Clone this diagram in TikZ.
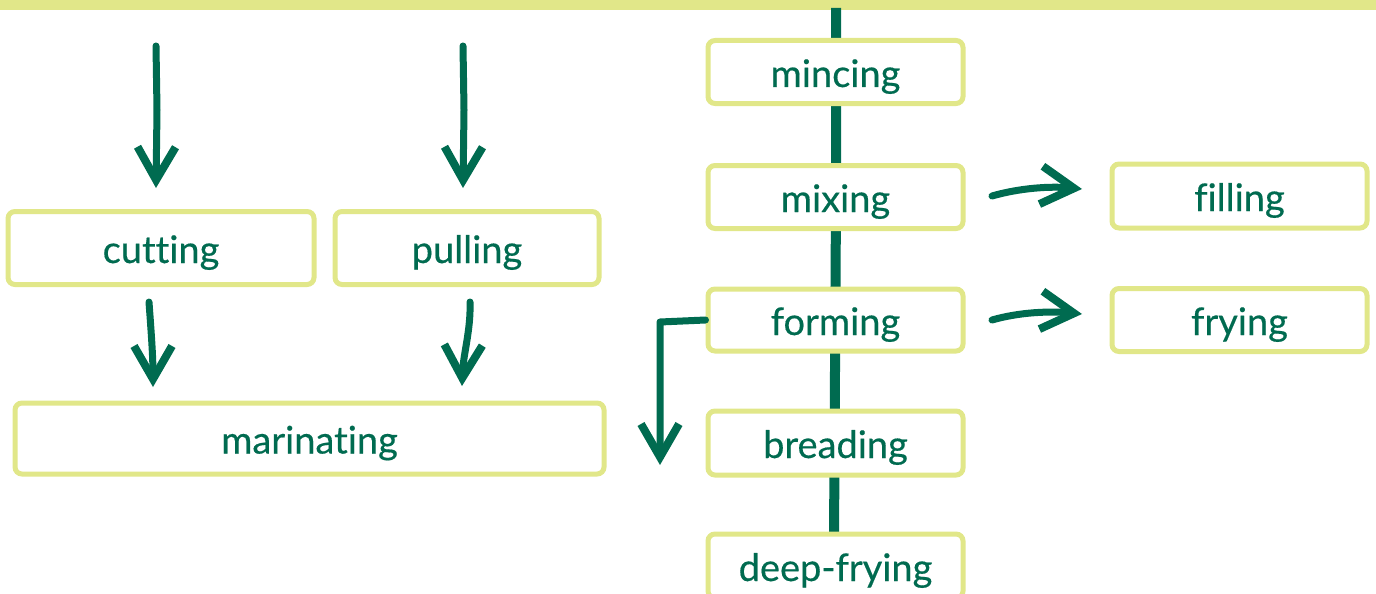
\documentclass[tikz,border=0pt]{standalone}
\usepackage{fontspec}
\setmainfont{Lato}[Ligatures={NoCommon}]
\newfontfamily\labfont{Lato}[Ligatures={NoCommon}, RawFeature={embolden=0.4}]
\usetikzlibrary{arrows.meta}
\definecolor{dgreen}{HTML}{006B50}
\definecolor{ylw}{HTML}{E1E789}
\tikzset{
  stepbox/.style={draw=ylw, line width=5pt, rounded corners=7pt, fill=white, text=dgreen,
    font=\labfont\fontsize{38}{40}\selectfont, anchor=center, inner sep=0pt, text height=30pt, text depth=0pt},
  flow/.style={draw=dgreen, line width=7pt, line cap=round, line join=round,
    -{Straight Barb[length=33pt,width=38pt,line width=8pt]}},
}
\begin{document}
\begin{tikzpicture}[x=1pt,y=-1pt]
\useasboundingbox (0,0) rectangle (1376,594);
% top bar
\fill[ylw] (0,-2) rectangle (1376,10);
% vertical spine
\coordinate (top) at (836,8);
\coordinate (bot) at (834,540);
\draw[dgreen, line width=10pt] (top) -- (836,200) -- (bot);
% boxes
\node[stepbox, minimum width=255pt, minimum height=63pt] (mincing) at (835.5,72) {mincing};
\node[stepbox, minimum width=255pt, minimum height=63pt] (mixing) at (835.5,197) {mixing};
\node[stepbox, minimum width=255pt, minimum height=62pt] (forming) at (835.5,320) {forming};
\node[stepbox, minimum width=255pt, minimum height=64pt] (breading) at (835.5,443) {breading};
\node[stepbox, minimum width=255pt, minimum height=64pt] (deep) at (835.5,566) {deep-frying};
\node[stepbox, minimum width=255pt, minimum height=64pt] (filling) at (1239.5,196) {filling};
\node[stepbox, minimum width=255pt, minimum height=63pt] (frying) at (1239.5,320) {frying};
\node[stepbox, minimum width=306pt, minimum height=73pt] (cutting) at (161,248) {cutting};
\node[stepbox, minimum width=264pt, minimum height=73pt] (pulling) at (467,248) {pulling};
\node[stepbox, minimum width=589pt, minimum height=71pt] (marinating) at (309.5,438.5) {marinating};
% free-end coordinates
\coordinate (c1s) at (156,46);
\coordinate (c1e) at (156,188);
\coordinate (p1s) at (463,46);
\coordinate (p1e) at (463,188);
\coordinate (c2s) at (149,302);
\coordinate (c2e) at (153,387);
\coordinate (p2s) at (470,302);
\coordinate (p2e) at (462,386);
\coordinate (fb) at (660,322);
\coordinate (fe) at (660,465);
\coordinate (m1) at (992,196);
\coordinate (m2) at (1082,189);
\coordinate (f1) at (992,320);
\coordinate (f2) at (1082,314);
% arrows
\draw[flow] (c1s) -- (157,110) -- (c1e);
\draw[flow] (p1s) -- (464,110) -- (p1e);
\draw[flow] (c2s) .. controls (151,330) and (153,355) .. (c2e);
\draw[flow] (p2s) .. controls (471,330) and (463,355) .. (p2e);
\draw[flow] (forming.west) -- (fb) -- (fe);
\draw[flow] (m1) .. controls (1020,188) and (1050,186) .. (m2);
\draw[flow] (f1) .. controls (1020,312) and (1050,311) .. (f2);
\end{tikzpicture}
\end{document}
